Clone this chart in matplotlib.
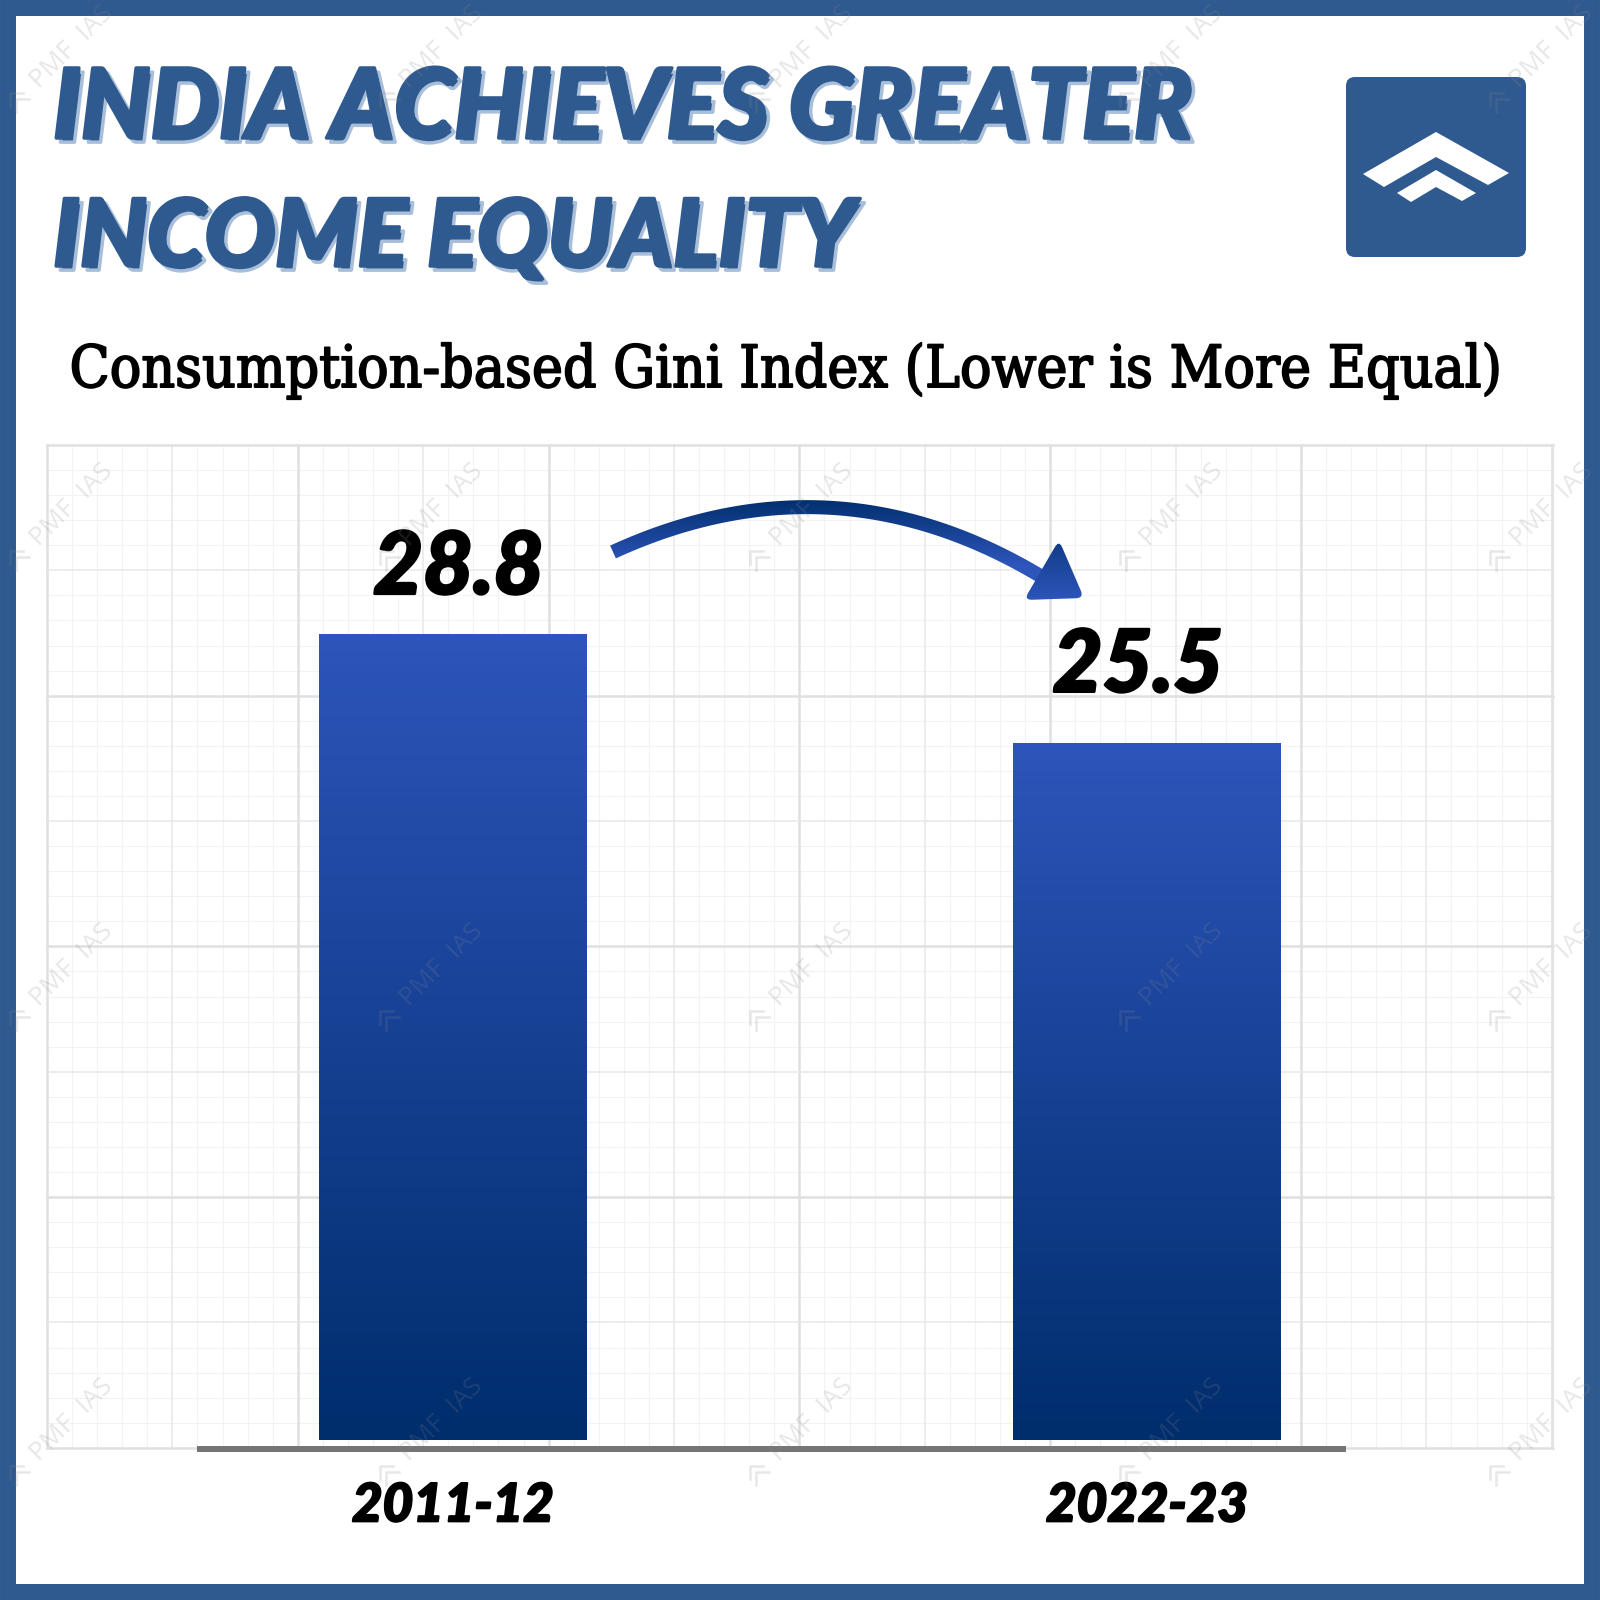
import numpy as np
import matplotlib
matplotlib.use('Agg')
import matplotlib.pyplot as plt
import matplotlib.patheffects as pe
from matplotlib.colors import LinearSegmentedColormap
from matplotlib.patches import FancyBboxPatch, PathPatch, Polygon, Rectangle
from matplotlib.path import Path

periods = ['2011-12', '2022-23']
gini = [28.8, 25.5]
title_lines = ['INDIA ACHIEVES GREATER', 'INCOME EQUALITY']
subtitle = 'Consumption-based Gini Index (Lower is More Equal)'

BLUE = '#2F5A90'
SHADOW = '#A9BFD9'
PLOT_LEFT, PLOT_RIGHT, PLOT_TOP, PLOT_BOTTOM = 47, 1553, 445, 1448
BAR_BASE = 4.51

grad = LinearSegmentedColormap.from_list('bar', ['#002D6C', '#2D55BB'])
arrow_grad = LinearSegmentedColormap.from_list('arrow', ['#2D55BB', '#03306F'])
hand_font = {'family': ['Lato', 'DejaVu Sans'], 'weight': 'black', 'style': 'italic'}


def px_axes(zorder):
    # full figure axes in pixel coordinates, y pointing down like the picture
    a = fig.add_axes([0, 0, 1, 1], zorder=zorder)
    a.set_xlim(0, 1600)
    a.set_ylim(1600, 0)
    a.axis('off')
    a.patch.set_alpha(0)
    return a


def rounded_triangle(points, r):
    verts, codes = [], []
    n = len(points)
    for i in range(n):
        p = np.array(points[i], float)
        prev = np.array(points[i - 1], float)
        nxt = np.array(points[(i + 1) % n], float)
        a = p + (prev - p) / np.linalg.norm(prev - p) * r
        b = p + (nxt - p) / np.linalg.norm(nxt - p) * r
        verts += [a, p, b]
        codes += [Path.MOVETO if i == 0 else Path.LINETO, Path.CURVE3, Path.CURVE3]
    verts.append(verts[0])
    codes.append(Path.CLOSEPOLY)
    return Path(verts, codes)


fig = plt.figure(figsize=(16, 16), dpi=100, facecolor='white')
back = px_axes(0)
front = px_axes(5)

# page border
back.add_patch(Rectangle((8, 8), 1584, 1584, fill=False, ec=BLUE, lw=11.5))

# squared paper behind the chart
for i in range(61):
    x = PLOT_LEFT + i * 25.08
    heavy = i % 10 == 0
    mid = i % 5 == 0
    back.plot([x, x], [PLOT_TOP, PLOT_BOTTOM], zorder=2 if mid else 1,
              color='#E0E0E0' if heavy else '#E8E8E8' if mid else '#F3F3F3',
              lw=1.8 if heavy else 1.1 if mid else 0.8)
for i in range(41):
    y = PLOT_TOP + i * 25.07
    heavy = i % 10 == 0
    mid = i % 5 == 0
    back.plot([PLOT_LEFT, PLOT_RIGHT], [y, y], zorder=2 if mid else 1,
              color='#E0E0E0' if heavy else '#E8E8E8' if mid else '#F3F3F3',
              lw=1.8 if heavy else 1.1 if mid else 0.8)
back.plot([PLOT_RIGHT, PLOT_RIGHT], [PLOT_TOP, PLOT_BOTTOM], color='#E3E3E3', lw=1.5)

# heading
for text, y, size in zip(title_lines, [110, 239], [69.5, 67]):
    back.text(53, y, text, fontsize=size, color=BLUE, va='center', ha='left', **hand_font,
              path_effects=[pe.SimplePatchShadow(offset=(3, -3), shadow_rgbFace=SHADOW, alpha=1),
                            pe.Stroke(linewidth=2.5, foreground=SHADOW, offset=(3, -3)),
                            pe.Stroke(linewidth=2.5, foreground=BLUE),
                            pe.Normal()])
back.text(786, 371, subtitle, fontsize=42, color='black', ha='center', va='center',
          family='DejaVu Serif', stretch='condensed', weight='normal',
          path_effects=[pe.withStroke(linewidth=1.3, foreground='black')])

# logo
back.add_patch(FancyBboxPatch((1354, 85), 164, 164, boxstyle='round,pad=8,rounding_size=9',
                              fc=BLUE, ec='none'))
back.add_patch(Polygon([(1363, 174), (1436, 132), (1509, 173), (1488, 185), (1436, 157), (1384, 187)],
                       fc='white', ec='none'))
back.add_patch(Polygon([(1397, 193), (1436, 170), (1476, 193), (1462, 201), (1436, 187), (1411, 202)],
                       fc='white', ec='none'))

# chart
ax = fig.add_axes([PLOT_LEFT / 1600, 1 - PLOT_BOTTOM / 1600,
                   (PLOT_RIGHT - PLOT_LEFT) / 1600, (PLOT_BOTTOM - PLOT_TOP) / 1600], zorder=2)
ax.patch.set_alpha(0)
xs = np.arange(len(periods))
bars = ax.bar(xs, [v - BAR_BASE for v in gini], bottom=BAR_BASE, width=0.386, color='none')
ramp = np.linspace(1, 0, 256).reshape(-1, 1)
for bar in bars:
    im = ax.imshow(ramp, cmap=grad, aspect='auto', vmin=0, vmax=1,
                   extent=[bar.get_x(), bar.get_x() + bar.get_width(), BAR_BASE, bar.get_y() + bar.get_height()])
    im.set_clip_path(bar)
ax.set_xlim(-0.585, 1.585)
ax.set_ylim(4.27, 34.48)
ax.set_xticks(xs, periods)
ax.tick_params(axis='x', length=0, pad=24, labelsize=38)
ax.set_yticks([])
for s in ax.spines.values():
    s.set_visible(False)
for lab in ax.get_xticklabels():
    lab.set(**hand_font)
    lab.set_path_effects([pe.withStroke(linewidth=1.5, foreground='black')])
for x, v, dx, dy in zip(xs, gini, [0.008, -0.013], [0.75, 1.1]):
    ax.text(x + dx, v + dy, f'{v}', fontsize=62, color='black', ha='center', va='bottom', **hand_font,
            path_effects=[pe.withStroke(linewidth=2, foreground='black')])

# baseline
back.plot([197, 1346], [1449, 1449], color='#757575', lw=4.3, solid_capstyle='butt', zorder=3)

# curved arrow, shaded top to bottom
t = np.linspace(0, 1, 120)[:, None]
p0, p1, p2 = np.array([613, 552]), np.array([840, 448]), np.array([1055, 585])
curve = (1 - t) ** 2 * p0 + 2 * t * (1 - t) * p1 + t ** 2 * p2
tangent = np.gradient(curve, axis=0)
normal = np.column_stack([-tangent[:, 1], tangent[:, 0]])
normal = normal / np.linalg.norm(normal, axis=1, keepdims=True)
shaft = Polygon(np.vstack([curve + 7 * normal, (curve - 7 * normal)[::-1]]), fc='none', ec='none')
front.add_patch(shaft)
rows = np.linspace(500, 600, 100)
shade = np.clip((565 - rows) / 65, 0, 1).reshape(-1, 1)
im = front.imshow(shade, cmap=arrow_grad, vmin=0, vmax=1, aspect='auto',
                  extent=[600, 1070, 600, 500], zorder=2)
im.set_clip_path(shaft)
head = PathPatch(rounded_triangle([(1059, 540), (1084, 598), (1024, 600)], 8), fc='none', ec='none')
front.add_patch(head)
im = front.imshow(np.linspace(0.7, 0, 64).reshape(-1, 1), cmap=arrow_grad, vmin=0, vmax=1, aspect='auto',
                  extent=[1020, 1090, 601, 540], zorder=3)
im.set_clip_path(head)
front.set_xlim(0, 1600)
front.set_ylim(1600, 0)

# watermark
for cy in [47, 505, 965, 1420]:
    for cx in [72, 442, 812, 1182, 1552]:
        front.text(cx, cy, 'PMF  IAS', fontsize=19, rotation=45, color='#888888', alpha=0.2,
                   ha='center', va='center', rotation_mode='anchor', family='Open Sans')
        for off in [0, 6]:
            ax0, ay0 = cx - 62 + off, cy + 46 + off
            front.plot([ax0 + 13, ax0, ax0], [ay0, ay0, ay0 + 13], color='#888888', alpha=0.2, lw=1.8)

fig.savefig('out.png', dpi=100)
